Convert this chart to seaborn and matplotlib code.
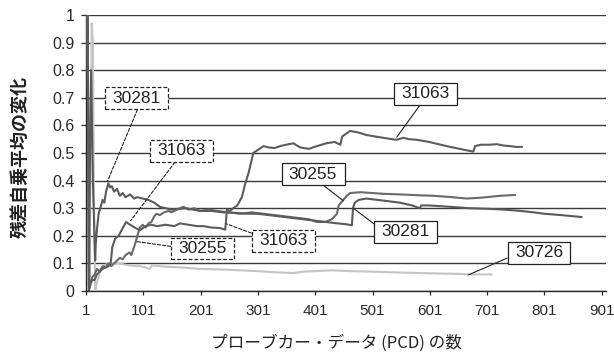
import matplotlib
matplotlib.use("Agg")
import numpy as np
import pandas as pd
import matplotlib.pyplot as plt
import seaborn as sns
from matplotlib.path import Path

# Running mean of squared residuals against number of probe-car data (PCD)
x_31063 = [2, 4, 6, 8, 12, 16, 20, 25, 30, 35, 40, 44, 47, 52, 58, 63, 71, 78, 86, 95,
           105, 115, 125, 140, 155, 165, 180, 195, 206, 220, 235, 244, 247, 252, 258, 265,
           273, 279, 285, 293, 300, 311, 320, 330, 340, 350, 363, 375, 390, 404, 420, 435,
           445, 448, 455, 462, 475, 491, 505, 520, 535, 543, 555, 565, 578, 600, 620, 637,
           660, 677, 680, 690, 705, 718, 730, 741, 752, 762]
y_31063 = [1.0, 1.0, 0.02, 0.03, 0.04, 0.04, 0.06, 0.07, 0.08, 0.085, 0.09, 0.1, 0.16, 0.19,
           0.2, 0.22, 0.25, 0.24, 0.23, 0.22, 0.235, 0.24, 0.235, 0.24, 0.235, 0.245, 0.24,
           0.235, 0.235, 0.23, 0.228, 0.222, 0.295, 0.29, 0.3, 0.31, 0.34, 0.39, 0.43, 0.5,
           0.51, 0.525, 0.52, 0.518, 0.525, 0.53, 0.535, 0.52, 0.515, 0.525, 0.535, 0.54,
           0.53, 0.56, 0.57, 0.58, 0.575, 0.565, 0.56, 0.555, 0.55, 0.548, 0.555, 0.55, 0.548,
           0.54, 0.53, 0.522, 0.512, 0.505, 0.525, 0.53, 0.53, 0.532, 0.527, 0.525, 0.522, 0.522]

x_30281 = [4, 6, 8, 10, 13, 17, 18, 20, 23, 26, 30, 33, 36, 40, 43, 46, 50, 55, 60, 65,
           70, 78, 85, 90, 100, 110, 120, 130, 150, 175, 200, 220, 240, 260, 280, 300, 320,
           340, 360, 380, 400, 420, 440, 455, 465, 467, 470, 477, 490, 510, 530, 549, 570,
           584, 586, 600, 637, 670, 700, 730, 760, 782, 800, 830, 866]
y_30281 = [1.0, 0.0, 0.5, 0.8, 0.4, 0.11, 0.17, 0.22, 0.28, 0.3, 0.33, 0.32, 0.36, 0.39,
           0.375, 0.38, 0.36, 0.37, 0.345, 0.355, 0.34, 0.35, 0.335, 0.34, 0.335, 0.33, 0.32,
           0.305, 0.295, 0.3, 0.29, 0.29, 0.285, 0.283, 0.28, 0.28, 0.275, 0.27, 0.265, 0.26,
           0.255, 0.25, 0.245, 0.242, 0.238, 0.3, 0.32, 0.33, 0.335, 0.33, 0.325, 0.32, 0.31,
           0.3, 0.31, 0.31, 0.305, 0.3, 0.298, 0.295, 0.29, 0.285, 0.28, 0.275, 0.268]

x_30255 = [3, 5, 7, 10, 12, 16, 20, 25, 30, 35, 40, 45, 50, 55, 60, 65, 70, 77, 80, 85,
           88, 92, 95, 100, 105, 110, 115, 120, 124, 130, 137, 145, 150, 160, 171, 180, 190,
           200, 215, 230, 250, 270, 290, 310, 330, 350, 370, 390, 404, 418, 430, 439, 442,
           450, 456, 462, 480, 500, 520, 549, 580, 607, 640, 666, 690, 724, 750]
y_30255 = [1.0, 0.6, 0.01, 0.03, 0.05, 0.06, 0.08, 0.07, 0.09, 0.085, 0.1, 0.09, 0.1, 0.11,
           0.12, 0.115, 0.13, 0.14, 0.13, 0.16, 0.18, 0.21, 0.23, 0.24, 0.23, 0.245, 0.25,
           0.27, 0.28, 0.275, 0.285, 0.29, 0.285, 0.295, 0.305, 0.295, 0.3, 0.29, 0.295, 0.29,
           0.285, 0.28, 0.285, 0.28, 0.275, 0.27, 0.265, 0.26, 0.25, 0.25, 0.26, 0.28, 0.31,
           0.33, 0.345, 0.355, 0.358, 0.355, 0.352, 0.35, 0.347, 0.345, 0.34, 0.335, 0.338,
           0.345, 0.348]

x_30726 = [7, 9, 11, 13, 15, 17, 20, 23, 26, 30, 35, 42, 50, 60, 70, 80, 95, 105, 112, 116,
           121, 140, 170, 200, 250, 300, 330, 363, 380, 401, 430, 462, 500, 549, 600, 650,
           680, 709]
y_30726 = [0.0, 0.5, 0.97, 0.9, 0.3, 0.0, 0.03, 0.05, 0.08, 0.09, 0.095, 0.1, 0.1, 0.1,
           0.095, 0.092, 0.09, 0.085, 0.08, 0.092, 0.092, 0.088, 0.085, 0.08, 0.077, 0.072,
           0.068, 0.065, 0.07, 0.072, 0.075, 0.072, 0.07, 0.067, 0.064, 0.062, 0.06, 0.06]

vehicles = ["30726", "30255", "30281", "31063"]
series_x = {"31063": x_31063, "30281": x_30281, "30255": x_30255, "30726": x_30726}
series_y = {"31063": y_31063, "30281": y_30281, "30255": y_30255, "30726": y_30726}

x_ticks = [1, 101, 201, 301, 401, 501, 601, 701, 801, 901]
y_ticks = [0, 0.1, 0.2, 0.3, 0.4, 0.5, 0.6, 0.7, 0.8, 0.9, 1.0]
y_tick_labels = ["0", "0.1", "0.2", "0.3", "0.4", "0.5", "0.6", "0.7", "0.8", "0.9", "1"]

x_title = "プローブカー・データ (PCD) の数"
y_title = "残差自乗平均の変化"

line_colors = {"31063": "#5c5c5c", "30281": "#5a5a5a", "30255": "#6a6a6a", "30726": "#c4c4c4"}

df = pd.concat(
    [pd.DataFrame({"PCD": series_x[v], "value": series_y[v], "vehicle": v}) for v in vehicles],
    ignore_index=True,
)

sns.set_theme(style="white")
plt.rcParams["font.family"] = ["Liberation Sans", "DejaVu Sans"]
jp_font = ["Noto Sans CJK JP", "DejaVu Sans"]

fig = plt.figure(figsize=(6.14, 3.64), dpi=100)
ax = fig.add_axes([86 / 614, 73 / 364, 520 / 614, 276 / 364])

sns.lineplot(data=df, x="PCD", y="value", hue="vehicle", hue_order=vehicles,
             palette=line_colors, estimator=None, sort=False, legend=False,
             linewidth=1.5, ax=ax, zorder=3)

ax.set_xlim(1, 908.5)
ax.set_ylim(0, 1)
ax.set_xticks(x_ticks)
ax.set_xticklabels([str(t) for t in x_ticks])
ax.set_yticks(y_ticks)
ax.set_yticklabels(y_tick_labels)

ax.set_axisbelow(True)
ax.grid(axis="y", color="#3a3a3a", linewidth=1.0)
ax.grid(axis="x", visible=False)
for side in ["top", "right"]:
    ax.spines[side].set_visible(False)
for side in ["left", "bottom"]:
    ax.spines[side].set_color("#2a2a2a")
    ax.spines[side].set_linewidth(1.0)

ax.tick_params(axis="x", bottom=True, length=3, width=0.9, pad=6.5,
               labelsize=11, colors="#2a2a2a", direction="out")
ax.tick_params(axis="y", left=True, length=3.6, width=0.9, pad=4.5,
               labelsize=11.5, colors="#2a2a2a", direction="out")

ax.set_xlabel(x_title, family=jp_font, fontsize=12, color="#222222", va="center")
ax.xaxis.set_label_coords(0.481, -0.188)
ax.set_ylabel(y_title, family=jp_font, fontsize=13, color="#222222", va="center",
              weight="bold")
ax.yaxis.set_label_coords(-0.127, 0.486)


def label_box(x0, y0, width, height, mutation_size):
    """Rectangular frame with wider horizontal than vertical padding."""
    px = 0.42 * mutation_size
    py = 0.2 * mutation_size
    x0 -= px
    y0 -= py
    x1 = x0 + width + 2 * px
    y1 = y0 + height + 2 * py
    return Path([(x0, y0), (x1, y0), (x1, y1), (x0, y1), (x0, y0)], closed=True)


# text, box centre, point on the curve, leader start on box, dashed frame
callouts = [
    ("31063", (593.5, 0.714), (543.2, 0.557), (0.44, 0.0), False),
    ("30255", (397.2, 0.423), (450.0, 0.327), (0.62, 0.0), False),
    ("30281", (558.9, 0.215), (467.5, 0.300), (0.0, 0.64), False),
    ("30726", (791.6, 0.138), (668.0, 0.058), (0.0, 0.38), False),
    ("30281", (89.5, 0.699), (38.2, 0.396), (0.55, 0.0), True),
    ("31063", (167.3, 0.508), (79.0, 0.255), (0.43, 0.0), True),
    ("30255", (204.7, 0.154), (89.5, 0.179), (0.0, 0.57), True),
    ("31063", (345.3, 0.182), (246.6, 0.243), (0.0, 0.82), True),
]
for text, center, target, rel, dashed in callouts:
    style = (0, (3, 1.6)) if dashed else "-"
    ax.annotate(
        text, xy=target, xytext=center, textcoords="data",
        ha="center", va="center", fontsize=12.5, color="#222222",
        bbox=dict(boxstyle=label_box, fc="white", ec="#222222", lw=0.9, ls=style),
        arrowprops=dict(arrowstyle="-", color="#222222", lw=0.8, ls=style,
                        shrinkA=0, shrinkB=0, relpos=rel),
        zorder=6,
    )

fig.savefig("out.png", dpi=100)
